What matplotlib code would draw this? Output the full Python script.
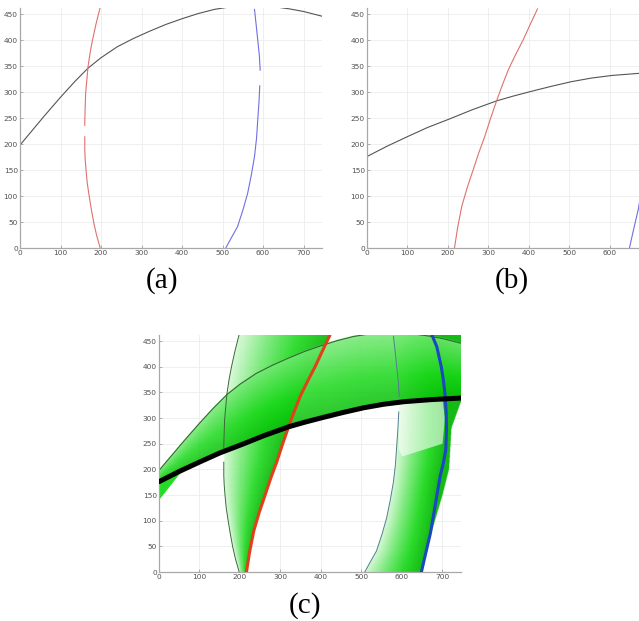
import numpy as np
import matplotlib
matplotlib.use("Agg")
import matplotlib.pyplot as plt
from matplotlib.colors import LinearSegmentedColormap
from matplotlib.patches import Polygon

nan = np.nan

# ── curves of frame (a) ───────────────────────────────────────────────────────
a_black_x = [0, 30, 60, 100, 135, 168, 200, 240, 280, 320, 360, 400, 440, 480,
             520, 570, 620, 665, 700, 745]
a_black_y = [198, 226, 254, 290, 320, 346, 366, 387, 403, 417, 430, 441, 451, 459,
             464, 467, 465, 460, 455, 446]
a_red_x = [198, 189, 182, 176, 171, 166, 163, 161, 160, 160, nan,
           160, 160, 161, 162, 165, 168, 173, 179, 188, 198]
a_red_y = [0, 25, 49, 75, 99, 125, 150, 170, 188, 214, nan,
           236, 246, 272, 297, 323, 349, 375, 400, 432, 463]
a_blue_x = [508, 522, 537, 550, 562, 571, 579, 584, 587, 590, 592, nan,
            593, 591, 587, 583, 579]
a_blue_y = [0, 20, 41, 72, 105, 140, 176, 211, 246, 280, 312, nan,
            342, 370, 400, 430, 459]

# ── curves of frame (b) ───────────────────────────────────────────────────────
b_black_x = [0, 50, 102, 150, 203, 260, 320, 360, 404, 455, 505, 555, 606, 672, 745]
b_black_y = [176, 196, 215, 232, 248, 266, 283, 292, 301, 311, 320, 327, 332, 336, 339]
b_red_x = [216, 224, 234, 247, 262, 276, 291, 305, 320, 334, 349, 367, 386, 403, 421]
b_red_y = [0, 40, 80, 115, 150, 183, 215, 249, 283, 313, 343, 372, 401, 430, 460]
b_blue_x = [648, 659, 670, 682, 694, 702, 708, 710, 709, 706, 702, 697, 686, 675]
b_blue_y = [0, 38, 75, 130, 186, 212, 238, 277, 312, 348, 375, 400, 439, 460]

# ── extra outlines of the green fans in (c) ───────────────────────────────────
blue_outer_x = [648, 672, 700, 716, 722, 745, 745]
blue_outer_y = [0, 75, 150, 200, 280, 330, 462]
wedge_x = [0, 56, 0]
wedge_y = [140, 196, 176]
gap_x = [592, 700, 706, 700, 660, 600, 592]
gap_y = [330, 336, 300, 250, 240, 225, 240]

x_ticks = list(range(0, 701, 100))
y_ticks = list(range(0, 451, 50))
XMAX, YMAX = 745, 462

fig = plt.figure(figsize=(6.39, 6.21), dpi=100)


def style(ax):
    ax.set_xlim(0, XMAX); ax.set_ylim(0, YMAX)
    ax.set_xticks(x_ticks); ax.set_yticks(y_ticks)
    ax.tick_params(labelsize=5.3, length=2, width=0.5, direction="in",
                   colors="#909090", labelcolor="#505050", pad=1.5)
    for s in ["top", "right"]:
        ax.spines[s].set_visible(False)
    for s in ["left", "bottom"]:
        ax.spines[s].set_color("#a8a8a8"); ax.spines[s].set_linewidth(0.9)
    ax.grid(True, color="#ececec", lw=0.6)
    ax.set_axisbelow(True)


def clean(x, y):
    x = np.asarray(x, float); y = np.asarray(y, float)
    m = ~np.isnan(x)
    return x[m], y[m]


W = 0.4722
ax_a = fig.add_axes([0.0313, 0.6006, W, 0.3868])
ax_b = fig.add_axes([0.5743, 0.6006, W, 0.3868])
ax_c = fig.add_axes([0.2488, 0.0789, W, 0.3817])
for ax in (ax_a, ax_b, ax_c):
    style(ax)
ax_b.set_xticks(x_ticks[:-1])   # 700 falls outside the cropped picture

# (a)
ax_a.plot(a_black_x, a_black_y, color="#555555", lw=0.8)
ax_a.plot(a_red_x, a_red_y, color="#e07070", lw=0.8)
ax_a.plot(a_blue_x, a_blue_y, color="#7070e0", lw=0.8)

# (b)
ax_b.plot(b_black_x, b_black_y, color="#555555", lw=0.8)
ax_b.plot(b_red_x, b_red_y, color="#e07070", lw=0.8)
ax_b.plot(b_blue_x, b_blue_y, color="#7070e0", lw=0.8)

# (c) green transition fans
greens = LinearSegmentedColormap.from_list(
    "fan", ["#d4f8d4", "#6ee86e", "#18d818", "#00b400"])
gx = np.linspace(0, XMAX, 900)
gy = np.linspace(0, YMAX, 600)
X, Y = np.meshgrid(gx, gy)


def fan_image(t, inside, alpha=0.92):
    rgba = greens(np.clip(t, 0, 1))
    rgba[..., 3] = np.where(inside, alpha, 0)
    ax_c.imshow(rgba, origin="lower", extent=(0, XMAX, 0, YMAX),
                aspect="auto", interpolation="bilinear", zorder=1)


# blue band
ax_, ay_ = clean(a_blue_x, a_blue_y)
xa = np.interp(Y, ay_, ax_)
xb = np.interp(Y, b_blue_y, b_blue_x)
xo = np.interp(Y, blue_outer_y, blue_outer_x)
t = (X - xa) / (xb - xa)
fan_image(t, (X >= xa) & (X <= np.maximum(xb, xo)))

# red band
ax_, ay_ = clean(a_red_x, a_red_y)
xa = np.interp(Y, ay_, ax_)
xb = np.interp(Y, b_red_y, b_red_x)
t = (X - xa) / (xb - xa)
fan_image(t, (t >= 0) & (t <= 1), alpha=0.88)

# black band
ya = np.interp(X, a_black_x, a_black_y)
yb = np.interp(X, b_black_x, b_black_y)
t = (ya - Y) / (ya - yb)
fan_image(0.3 + 0.6 * t, (t >= 0) & (t <= 1), alpha=0.85)

ax_c.add_patch(Polygon(np.column_stack([wedge_x, wedge_y]), closed=True,
                       facecolor="#22dd22", edgecolor="none", zorder=1.2))
ax_c.add_patch(Polygon(np.column_stack([gap_x, gap_y]), closed=True,
                       facecolor="white", edgecolor="none", alpha=0.6, zorder=1.3))

# (c) thin outlines of frame (a), thick curves of frame (b)
ax_c.plot(a_black_x, a_black_y, color="#2c6a2c", lw=0.8, zorder=2)
ax_c.plot(a_red_x, a_red_y, color="#3a6a3a", lw=0.7, zorder=2)
ax_c.plot(a_blue_x, a_blue_y, color="#4f7f8f", lw=0.7, zorder=2)
ax_c.plot(b_red_x, b_red_y, color="#e0401a", lw=2.2, zorder=3)
ax_c.plot(b_blue_x, b_blue_y, color="#1a48c0", lw=2.2, zorder=3)
ax_c.plot(b_black_x, b_black_y, color="black", lw=3.6, zorder=4,
          solid_capstyle="round")

for label, (fx, fy) in zip(["(a)", "(b)", "(c)"],
                           [(0.2535, 0.5475), (0.801, 0.5475), (0.477, 0.0245)]):
    fig.text(fx, fy, label, ha="center", va="center", fontsize=21,
             family="Liberation Serif")

fig.savefig("out.png", dpi=100)
